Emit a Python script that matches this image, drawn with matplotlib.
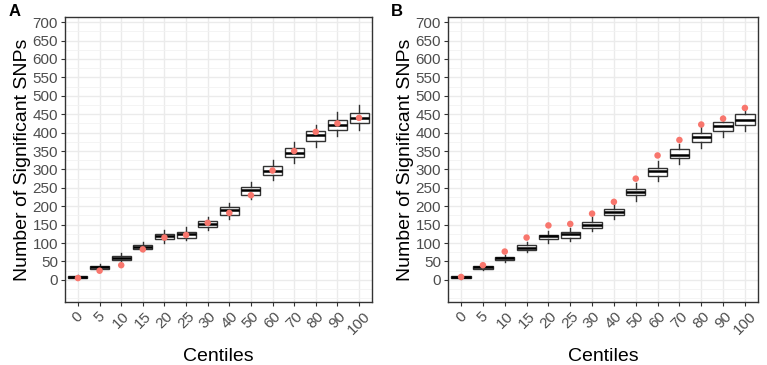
import matplotlib.pyplot as plt
from matplotlib.ticker import MultipleLocator
import matplotlib.transforms as mtransforms
import numpy as np

plt.rcParams['font.family'] = ['Liberation Sans', 'DejaVu Sans']

centiles = ["0", "5", "10", "15", "20", "25", "30", "40", "50", "60", "70", "80", "90", "100"]

# panel A: box stats (whisker low, q1, median, q3, whisker high) and red point
a_wlo = [3, 27, 50, 78, 100, 108, 135, 165, 220, 270, 318, 360, 392, 408]
a_q1 = [5, 30, 55, 83, 110, 115, 145, 176, 230, 285, 333, 378, 408, 425]
a_med = [8, 35, 60, 90, 118, 125, 152, 190, 243, 297, 345, 393, 422, 440]
a_q3 = [10, 38, 65, 95, 125, 130, 160, 197, 252, 308, 357, 405, 435, 453]
a_whi = [12, 43, 72, 102, 135, 143, 170, 210, 265, 325, 375, 420, 455, 475]
a_red = [5, 25, 40, 83, 115, 122, 155, 182, 230, 297, 350, 402, 425, 440]

# panel B
b_wlo = [3, 27, 48, 75, 100, 106, 132, 165, 215, 268, 315, 357, 387, 405]
b_q1 = [5, 30, 55, 82, 110, 115, 142, 175, 230, 282, 330, 375, 405, 420]
b_med = [8, 35, 60, 88, 118, 125, 150, 185, 238, 295, 340, 388, 418, 435]
b_q3 = [10, 38, 63, 95, 123, 130, 158, 193, 248, 305, 355, 400, 430, 450]
b_whi = [12, 42, 68, 102, 132, 140, 170, 205, 262, 322, 370, 415, 445, 462]
b_red = [8, 40, 77, 115, 148, 152, 180, 212, 275, 338, 380, 422, 438, 467]


def draw_panel(ax, wlo, q1, med, q3, whi, red, letter):
    stats = []
    for i in range(len(centiles)):
        stats.append(dict(whislo=wlo[i], q1=q1[i], med=med[i], q3=q3[i], whishi=whi[i], fliers=[]))
    pos = np.arange(len(centiles))
    ax.bxp(stats, positions=pos, widths=0.88, showcaps=False, patch_artist=True,
           boxprops=dict(facecolor='white', edgecolor='#333333', linewidth=1.0),
           medianprops=dict(color='black', linewidth=1.8),
           whiskerprops=dict(color='#333333', linewidth=1.0), zorder=3)
    ax.scatter(pos, red, color='#F8766D', s=22, zorder=4, edgecolors='none')

    ax.set_xlim(-0.6, len(centiles) - 0.4)
    ax.set_ylim(-60, 714)
    ax.yaxis.set_minor_locator(MultipleLocator(25))
    ax.set_yticks(np.arange(0, 701, 50))
    ax.set_xticks(pos)
    ax.set_xticklabels(centiles, rotation=45, ha='center', va='top')
    offset = mtransforms.ScaledTranslation(6 / 100, 0, ax.figure.dpi_scale_trans)
    for lab in ax.get_xticklabels():
        lab.set_transform(lab.get_transform() + offset)

    ax.grid(True, which='major', color='#EBEBEB', linewidth=1.0, zorder=0)
    ax.grid(True, which='minor', axis='y', color='#F2F2F2', linewidth=0.6, zorder=0)
    ax.set_axisbelow(True)
    ax.tick_params(axis='both', which='major', labelsize=11, labelcolor='#4D4D4D',
                   color='#333333', length=3, width=0.8, pad=2)
    ax.tick_params(axis='y', which='minor', length=0)
    for s in ax.spines.values():
        s.set_color('#333333')
        s.set_linewidth(1.0)
    ax.set_xlabel("Centiles", fontsize=14, labelpad=8)
    ax.set_ylabel("Number of Significant SNPs", fontsize=14, labelpad=1)
    ax.text(-0.185, 1.045, letter, transform=ax.transAxes, fontsize=12, fontweight='bold',
            ha='left', va='top')


fig = plt.figure(figsize=(7.67, 3.65), dpi=100)
ax1 = fig.add_axes([65 / 767, 63 / 365, 307 / 767, 285 / 365])
ax2 = fig.add_axes([448 / 767, 63 / 365, 310 / 767, 285 / 365])

draw_panel(ax1, a_wlo, a_q1, a_med, a_q3, a_whi, a_red, "A")
draw_panel(ax2, b_wlo, b_q1, b_med, b_q3, b_whi, b_red, "B")

fig.savefig("out.png", dpi=100)
